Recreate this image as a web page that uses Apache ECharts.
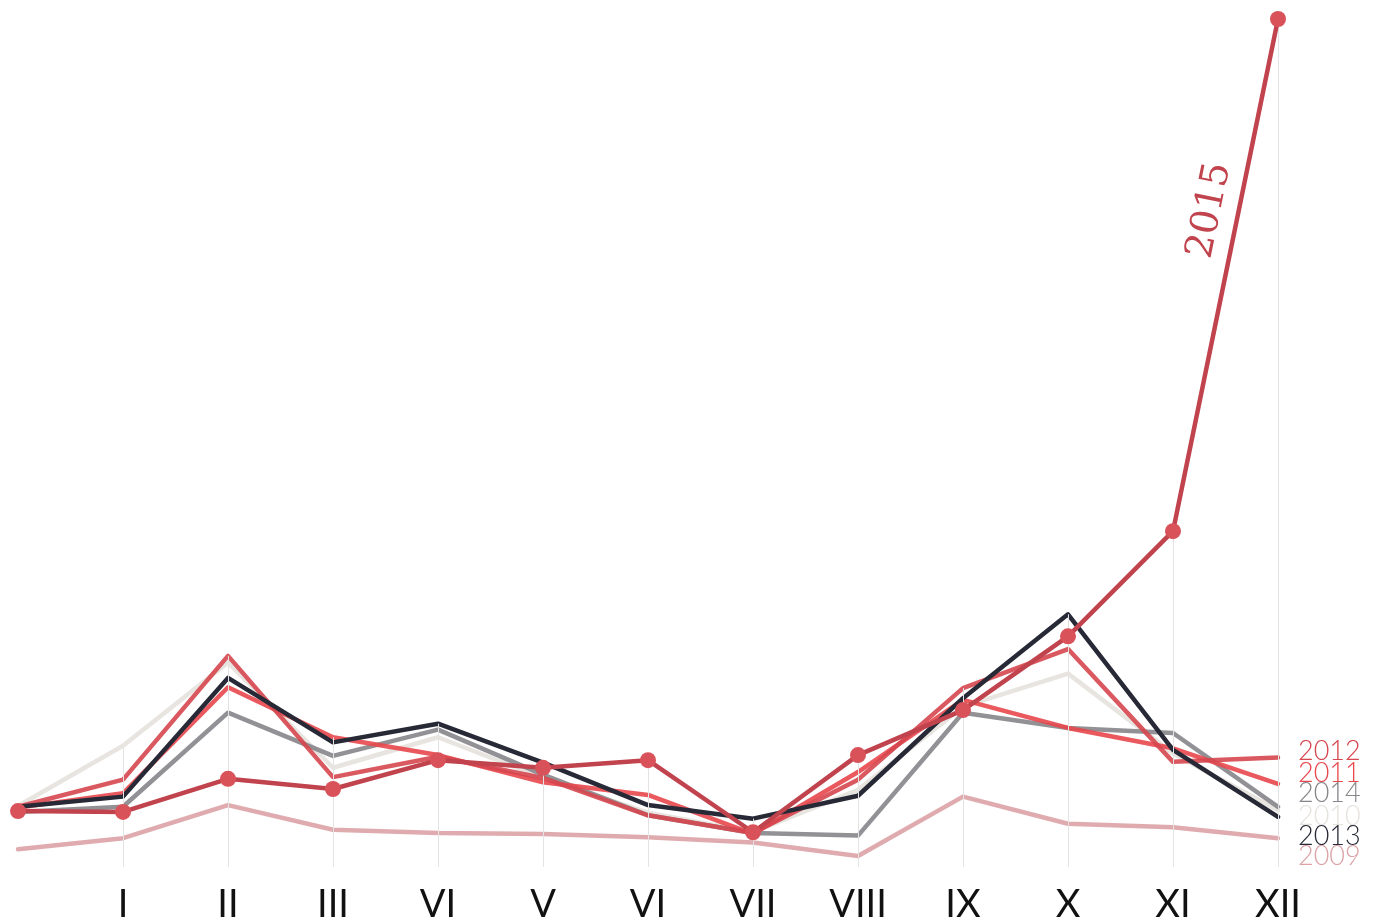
<!DOCTYPE html>
<html>
<head>
<meta charset="utf-8">
<script src="https://cdn.jsdelivr.net/npm/echarts@6/dist/echarts.min.js"></script>
<style>
html,body{margin:0;padding:0;background:#fff;}
#chart{width:1377px;height:921px;}
</style>
</head>
<body>
<div id="chart"></div>
<script>
const categories = ['', 'I', 'II', 'III', 'VI', 'V', 'VI', 'VII', 'VIII', 'IX', 'X', 'XI', 'XII'];
const years = ['2009', '2010', '2014', '2011', '2012', '2013', '2015'];
const y2009 = [2.1, 3.4, 7.3, 4.4, 4.0, 3.9, 3.5, 2.9, 1.3, 8.3, 5.1, 4.7, 3.4];
const y2010 = [7.2, 14.3, 24.1, 11.7, 15.3, 10.5, 6.4, 4.1, 9.1, 18.9, 22.8, 13.4, 6.7];
const y2011 = [7.0, 8.7, 21.2, 15.3, 13.2, 10.0, 8.5, 3.9, 11.2, 19.7, 16.4, 14.0, 9.8];
const y2012 = [7.1, 10.3, 24.9, 10.6, 13.0, 10.5, 6.1, 4.0, 10.3, 21.1, 25.7, 12.4, 12.9];
const y2013 = [7.1, 8.3, 22.3, 14.7, 16.9, 12.3, 7.3, 5.7, 8.4, 19.9, 29.8, 13.8, 5.9];
const y2014 = [6.5, 7.1, 18.2, 13.1, 16.2, 10.9, 6.1, 4.0, 3.7, 18.2, 16.4, 15.8, 7.1];
const y2015 = [6.6, 6.5, 10.4, 9.2, 12.6, 11.7, 12.6, 4.1, 13.2, 18.5, 27.2, 39.6, 100];

const dataByYear = {'2009': y2009, '2010': y2010, '2011': y2011, '2012': y2012, '2013': y2013, '2014': y2014, '2015': y2015};
const colors = {'2009': '#dca2a6', '2010': '#e6e2de', '2011': '#e8474c', '2012': '#d6464e', '2013': '#272a36', '2014': '#86868b', '2015': '#c0434d'};
const labelDy = {'2009': 18, '2010': 6, '2011': -11, '2012': -6, '2013': 19, '2014': -13};

const chart = echarts.init(document.getElementById('chart'), null, {renderer: 'canvas'});

// drop lines from max value at each month to the baseline
const dropLines = [];
for (let i = 1; i < categories.length; i++) {
  let m = 0;
  years.forEach(y => { m = Math.max(m, dataByYear[y][i]); });
  dropLines.push([{coord: [i, 0]}, {coord: [i, m]}]);
}

const series = [{
  type: 'line',
  name: 'drop',
  data: [],
  silent: true,
  markLine: {
    silent: true,
    symbol: ['none', 'none'],
    label: {show: false},
    lineStyle: {color: '#e3e3e3', width: 1, type: 'solid'},
    data: dropLines
  },
  z: 1
}];

years.forEach(y => {
  const is15 = y === '2015';
  series.push({
    type: 'line',
    name: y,
    data: dataByYear[y],
    showSymbol: is15,
    symbol: 'circle',
    symbolSize: 16,
    itemStyle: {color: is15 ? '#d9525a' : colors[y]},
    lineStyle: {color: colors[y], width: 4.5, cap: 'round', join: 'round', opacity: (y === '2013' || is15) ? 1 : 0.9},
    z: is15 ? 5 : 3,
    endLabel: is15 ? {show: false} : {
      show: true,
      formatter: y,
      distance: 20,
      offset: [0, labelDy[y]],
      color: colors[y],
      fontFamily: 'Lato',
      fontWeight: 300,
      fontSize: 27
    },
    emphasis: {disabled: true}
  });
});

chart.setOption({
  animation: false,
  grid: {left: 18, right: 99, top: 19, bottom: 54, containLabel: false, outerBoundsMode: 'none'},
  xAxis: {
    type: 'category',
    data: categories,
    boundaryGap: false,
    axisLine: {show: false},
    axisTick: {show: false},
    splitLine: {show: false},
    axisLabel: {color: '#111', fontFamily: 'Lato', fontSize: 38, margin: 19, interval: 0}
  },
  yAxis: {
    type: 'value',
    min: 0,
    max: 100,
    show: false,
    splitLine: {show: false}
  },
  series: series
});

// rotated label along the last 2015 segment
const p = chart.convertToPixel({gridIndex: 0}, [11, y2015[11]]);
const q = chart.convertToPixel({gridIndex: 0}, [12, y2015[12]]);
const dx = q[0] - p[0], dy = q[1] - p[1];
const len = Math.sqrt(dx * dx + dy * dy);
const ux = dx / len, uy = dy / len;
const nx = uy, ny = -ux; // left-hand normal
const t = 0.615, off = 28;
const cx = p[0] + t * dx + off * nx;
const cy = p[1] + t * dy + off * ny;
const ang = Math.atan2(-dy, dx);
chart.setOption({
  graphic: [{
    type: 'text',
    x: cx, y: cy,
    rotation: ang,
    style: {
      text: '2015',
      fill: '#c0434d',
      font: '38px "DejaVu Serif"',
      align: 'center',
      verticalAlign: 'middle'
    },
    z: 10
  }]
});
</script>
</body>
</html>
